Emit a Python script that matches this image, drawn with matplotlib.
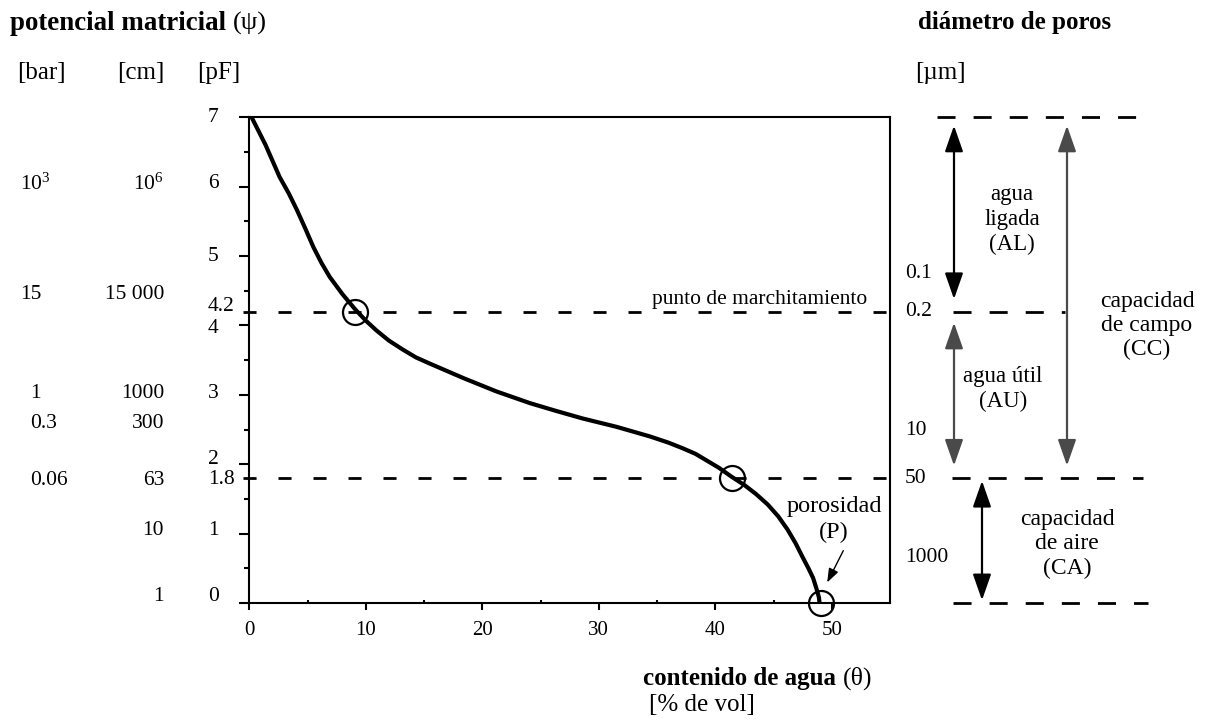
import matplotlib
matplotlib.use("Agg")
import matplotlib.pyplot as plt
import matplotlib.transforms as mtransforms

plt.rcParams["font.family"] = ["Liberation Serif", "DejaVu Serif"]
plt.rcParams["mathtext.fontset"] = "custom"
plt.rcParams["mathtext.rm"] = "Liberation Serif"

# ---------------------------------------------------------------------------
# Data (curva de retencion de agua)
# ---------------------------------------------------------------------------

theta = [0.2, 1.4, 2.6, 3.4, 4.1, 4.8, 5.5, 6.2, 6.9, 8.0, 9.1, 10.0, 10.9,
         12.0, 13.2, 14.3, 15.5, 18.4, 21.2, 24.1, 26.3, 28.6, 31.5, 34.4,
         36.0, 37.2, 38.3, 39.2, 40.3, 41.4, 42.5, 43.5, 44.5, 45.4, 46.2,
         46.9, 47.5, 48.0, 48.4, 48.7, 48.9, 48.95]
pf = [7.0, 6.6, 6.14, 5.9, 5.66, 5.4, 5.13, 4.9, 4.70, 4.45, 4.23, 4.07, 3.93,
      3.78, 3.65, 3.54, 3.45, 3.24, 3.05, 2.88, 2.77, 2.66, 2.54, 2.40,
      2.31, 2.23, 2.15, 2.06, 1.95, 1.82, 1.70, 1.57, 1.42, 1.25, 1.06,
      0.86, 0.66, 0.50, 0.36, 0.20, 0.08, 0.0]

key_theta = [9.1, 41.4, 49.1]      # punto de marchitamiento, cap. de campo, porosidad
key_pf = [4.2, 1.8, 0.0]

pf_wp = 4.2    # punto de marchitamiento
pf_fc = 1.8    # capacidad de campo
pf_top = 7.0
pf_bot = 0.0

pf_labels = ["7", "6", "5", "4.2", "4", "3", "2", "1.8", "1", "0"]
pf_label_y = [7.0, 6.04, 5.0, 4.28, 3.96, 3.02, 2.07, 1.78, 1.05, 0.09]

bar_labels = [r"$\mathregular{10^3}$", "15", "1", "0.3", "0.06"]
bar_label_y = [6.04, 4.44, 3.02, 2.58, 1.77]
bar_label_px = [20, 20, 30, 30, 30]

cm_labels = [r"$\mathregular{10^6}$", "15 000", "1000", "300", "63", "10", "1"]
cm_label_y = [6.04, 4.44, 3.02, 2.58, 1.77, 1.05, 0.09]

pore_labels = ["0.1", "0.2", "10", "50", "1000"]
pore_label_y = [4.75, 4.2, 2.49, 1.8, 0.66]

W, H = 1206, 722
fig = plt.figure(figsize=(W / 100, H / 100), dpi=100)
ax = fig.add_axes([249.3 / W, (H - 603) / H, (890 - 249.3) / W, (603 - 117.3) / H])

ax.set_xlim(0, 55)
ax.set_ylim(0, 7)

for s in ax.spines.values():
    s.set_linewidth(1.5)

ax.set_xticks([0, 10, 20, 30, 40, 50])
ax.set_xticks([5, 15, 25, 35, 45], minor=True)
ax.set_yticks(range(8))
ax.set_yticks([0.5 + i for i in range(7)], minor=True)
ax.set_yticklabels([])
ax.tick_params(axis="x", which="major", direction="out", length=5, width=1.5,
               labelsize=15, pad=8)
ax.tick_params(axis="x", which="minor", direction="in", length=2.5, width=1.5)
ax.tick_params(axis="y", which="major", direction="out", length=7, width=1.5)
ax.tick_params(axis="y", which="minor", direction="out", length=3.6, width=1.5)

# curve and key points
ax.plot(theta, pf, color="black", lw=3, solid_capstyle="round",
        solid_joinstyle="round", zorder=3)
ax.plot(key_theta, key_pf, "o", ms=18, mfc="none", mec="black", mew=1.6,
        clip_on=False, zorder=4)

# horizontal dashed lines inside the plot
for yv in (pf_wp, pf_fc):
    ax.plot([-0.55, 55], [yv, yv], color="black", lw=2,
            linestyle=(0, (4.7, 7.9)), clip_on=False, zorder=2)

ax.text(53.06, 4.38, "punto de marchitamiento", fontsize=15.5, ha="right", va="center")
ax.text(50.2, 1.21, "porosidad\n(P)", fontsize=17.5, ha="center", va="center",
        linespacing=1.3)
ax.annotate("", xy=(49.5, 0.26), xytext=(51.1, 0.79),
            arrowprops=dict(arrowstyle="-|>,head_length=0.6,head_width=0.22",
                            color="black", lw=1, mutation_scale=14))

# ---------------------------------------------------------------------------
# Side annotations (x in figure pixels, y in pF units)
# ---------------------------------------------------------------------------

tr = mtransforms.blended_transform_factory(fig.transFigure, ax.transData)


def fx(px):
    return px / W


# left columns
for lab, yv in zip(pf_labels, pf_label_y):
    ax.text(fx(208), yv, lab, transform=tr, fontsize=15.5, ha="left", va="center")
for lab, yv, px in zip(bar_labels, bar_label_y, bar_label_px):
    ax.text(fx(px), yv, lab, transform=tr, fontsize=15.5, ha="left", va="center")
for lab, yv in zip(cm_labels, cm_label_y):
    ax.text(fx(164), yv, lab, transform=tr, fontsize=15.5, ha="right", va="center")

fig.text(fx(17), 1 - 73 / H, "[bar]", fontsize=18, ha="left", va="center")
fig.text(fx(117), 1 - 73 / H, "[cm]", fontsize=18, ha="left", va="center")
fig.text(fx(197), 1 - 73 / H, "[pF]", fontsize=18, ha="left", va="center")
fig.text(fx(10), 1 - 23 / H, "potencial matricial", fontsize=19.4,
         fontweight="bold", ha="left", va="center")
fig.text(fx(233), 1 - 23 / H, "(ψ)", fontsize=19, ha="left", va="center")

# bottom label
fig.text(fx(643), 1 - 678 / H, "contenido de agua", fontsize=18,
         fontweight="bold", ha="left", va="center")
fig.text(fx(843), 1 - 678 / H, "(θ)", fontsize=18.5, ha="left", va="center")
fig.text(fx(649), 1 - 705 / H, "[% de vol]", fontsize=18, ha="left", va="center")

# right side: diametro de poros
fig.text(fx(918), 1 - 23 / H, "diámetro de poros", fontsize=18,
         fontweight="bold", ha="left", va="center")
fig.text(fx(915), 1 - 73 / H, "[µm]", fontsize=18, ha="left", va="center")
for lab, yv in zip(pore_labels, pore_label_y):
    ax.text(fx(905), yv, lab, transform=tr, fontsize=15.5, ha="left", va="center")

right_dash = (0, (6.5, 6.5))
for x0, x1, yv in [(937, 1143, pf_top), (953, 1065, pf_wp),
                   (952, 1143, pf_fc), (953, 1148, pf_bot)]:
    ax.plot([fx(x0), fx(x1)], [yv, yv], transform=tr, color="black", lw=2,
            linestyle=right_dash, clip_on=False)

gray = "#4a4a4a"
arrow_style = "<|-|>,head_length=0.8,head_width=0.28"
for px, y0, y1, col, sa, sb in [(954, pf_top, pf_wp, "black", 6, 9),
                                (954, pf_wp, pf_fc, gray, 8, 9),
                                (1067, pf_top, pf_fc, gray, 6, 9),
                                (982, pf_fc, pf_bot, "black", 2, 2)]:
    ax.annotate("", xy=(fx(px), y1), xytext=(fx(px), y0), xycoords=tr,
                textcoords=tr,
                arrowprops=dict(arrowstyle=arrow_style, color=col, lw=1.6,
                                mutation_scale=20, shrinkA=sa, shrinkB=sb))

ax.text(fx(1012), 5.53, "agua\nligada\n(AL)", transform=tr, fontsize=16.5,
        ha="center", va="center", linespacing=1.25)
ax.text(fx(1003), 3.08, "agua útil\n(AU)", transform=tr, fontsize=16.5,
        ha="center", va="center", linespacing=1.25)
ax.text(fx(1147), 4.0, "capacidad\nde campo\n(CC)", transform=tr, fontsize=17,
        ha="center", va="center", linespacing=1.2)
ax.text(fx(1067), 0.85, "capacidad\nde aire\n(CA)", transform=tr, fontsize=17,
        ha="center", va="center", linespacing=1.2)

fig.savefig("out.png", dpi=100)
